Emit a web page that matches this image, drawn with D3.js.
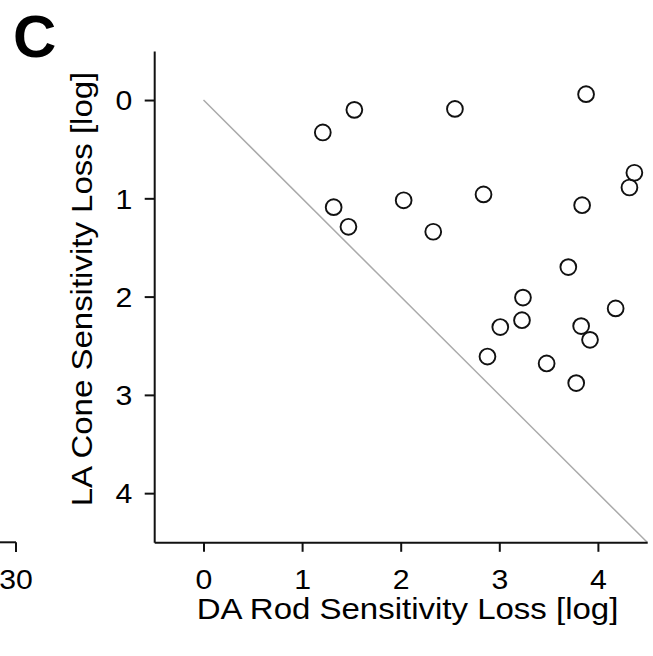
<!DOCTYPE html>
<html>
<head>
<meta charset="utf-8">
<script src="https://cdn.jsdelivr.net/npm/d3@7/dist/d3.min.js"></script>
<style>
  html, body { margin: 0; padding: 0; background: #fff; }
  svg { display: block; }
  text { font-family: "Liberation Sans", Arial, Helvetica, sans-serif; fill: #000; }
</style>
</head>
<body>
<svg id="chart" width="653" height="656"></svg>
<script>
// Data: DA rod sensitivity loss (x) vs LA cone sensitivity loss (y), log units
const rodLoss  = [1.21, 1.53, 2.55, 3.88, 4.37, 4.32, 1.32, 1.47, 2.03, 2.33, 2.84, 3.84,
                  3.70, 3.24, 4.18, 3.23, 3.01, 3.83, 3.92, 2.88, 3.48, 3.78];
const coneLoss = [0.33, 0.10, 0.09, -0.06, 0.74, 0.89, 1.09, 1.29, 1.02, 1.34, 0.96, 1.07,
                  1.70, 2.01, 2.12, 2.24, 2.31, 2.30, 2.44, 2.61, 2.68, 2.88];
const xTicks = [0, 1, 2, 3, 4];
const yTicks = [0, 1, 2, 3, 4];
const xDomain = [-0.5, 4.5];
const yDomain = [-0.5, 4.5];
const diagonal = [[0, 0], [4.5, 4.5]];
const xTitle = "DA Rod Sensitivity Loss [log]";
const yTitle = "LA Cone Sensitivity Loss [log]";
const panelLabel = "C";
const prevPanelTick = "30";

const TICK_STRETCH = 1.12;
const TITLE_STRETCH = 1.1;
const TICK_FS = 27;
const TITLE_FS = 30;

const svg = d3.select("#chart");
const x = d3.scaleLinear().domain(xDomain).range([154.2, 647.2]);
const y = d3.scaleLinear().domain(yDomain).range([50.9, 542.3]);

// panel letter
svg.append("text").attr("x", 13).attr("y", 57)
  .attr("font-size", 60).attr("font-weight", "bold").text(panelLabel);

// remnant of previous panel's x axis
svg.append("line").attr("x1", 0).attr("x2", 16).attr("y1", 542.3).attr("y2", 542.3)
  .attr("stroke", "#111").attr("stroke-width", 2);
svg.append("line").attr("x1", 16).attr("x2", 16).attr("y1", 542.3).attr("y2", 552)
  .attr("stroke", "#111").attr("stroke-width", 2);
svg.append("text").attr("transform", `translate(16,589) scale(${TICK_STRETCH},1)`)
  .attr("text-anchor", "middle").attr("font-size", TICK_FS).text(prevPanelTick);

// diagonal identity line
svg.append("line")
  .attr("x1", x(diagonal[0][0])).attr("y1", y(diagonal[0][1]))
  .attr("x2", x(diagonal[1][0])).attr("y2", y(diagonal[1][1]))
  .attr("stroke", "#aaa").attr("stroke-width", 1.5);

// x axis
const gx = svg.append("g").attr("transform", `translate(0,${y(yDomain[1])})`)
  .call(d3.axisBottom(x).tickValues(xTicks).tickSize(9.5).tickSizeOuter(0).tickFormat(d3.format("d")));
gx.attr("font-size", TICK_FS).attr("font-family", null);
gx.select(".domain").attr("stroke", "#111").attr("stroke-width", 2);
gx.selectAll(".tick line").attr("stroke", "#111").attr("stroke-width", 2);
gx.selectAll(".tick text").attr("font-size", TICK_FS)
  .attr("y", 0).attr("dy", 0)
  .attr("transform", `translate(0,46.3) scale(${TICK_STRETCH},1)`);

// y axis
const gy = svg.append("g").attr("transform", `translate(${x(xDomain[0])},0)`)
  .call(d3.axisLeft(y).tickValues(yTicks).tickSize(9.5).tickSizeOuter(0).tickFormat(d3.format("d")));
gy.attr("font-size", TICK_FS).attr("font-family", null);
gy.select(".domain").attr("stroke", "#111").attr("stroke-width", 2);
gy.selectAll(".tick line").attr("stroke", "#111").attr("stroke-width", 2);
gy.selectAll(".tick text").attr("font-size", TICK_FS)
  .attr("x", 0).attr("dy", "0.36em")
  .attr("transform", `translate(-22,0) scale(${TICK_STRETCH},1)`);
svg.selectAll(".domain").attr("fill", "none");

// points
const pts = rodLoss.map((v, i) => ({ x: v, y: coneLoss[i] }));
svg.append("g").selectAll("circle").data(pts).join("circle")
  .attr("cx", d => x(d.x)).attr("cy", d => y(d.y)).attr("r", 7.9)
  .attr("fill", "none").attr("stroke", "#111").attr("stroke-width", 1.9);

// axis titles
svg.append("text").attr("transform", `translate(407.5,619) scale(${TITLE_STRETCH},1)`)
  .attr("text-anchor", "middle").attr("font-size", TITLE_FS).text(xTitle);
svg.append("text").attr("transform", `translate(91.5,289) rotate(-90) scale(${TITLE_STRETCH},1)`)
  .attr("text-anchor", "middle").attr("font-size", TITLE_FS).text(yTitle);
</script>
</body>
</html>
